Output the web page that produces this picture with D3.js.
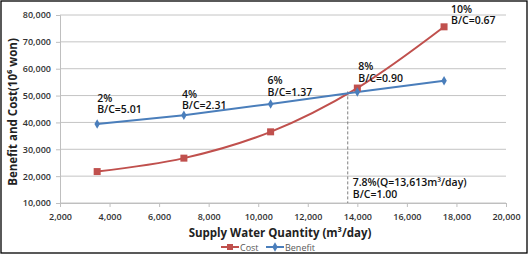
<!DOCTYPE html>
<html>
<head>
<meta charset="utf-8">
<script src="https://cdn.jsdelivr.net/npm/d3@7"></script>
<style>
  body { margin: 0; background: #fff; }
  svg text { font-family: "Open Sans", "Noto Sans", sans-serif; }
</style>
</head>
<body>
<script>
// data
const quantity = [3500, 7000, 10500, 14000, 17500];
const cost = [21700, 26700, 36500, 52800, 75600];
const benefit = [39400, 42700, 46900, 51300, 55500];
const rates = ['2%', '4%', '6%', '8%', '10%'];
const ratios = ['B/C=5.01', 'B/C=2.31', 'B/C=1.37', 'B/C=0.90', 'B/C=0.67'];
const xTicks = [2000, 4000, 6000, 8000, 10000, 12000, 14000, 16000, 18000, 20000];
const yTicks = [10000, 20000, 30000, 40000, 50000, 60000, 70000, 80000];
const breakEven = 13613;

const W = 529, H = 255;
const svg = d3.select('body').append('svg')
    .attr('width', W)
    .attr('height', H);

// outer frame
svg.append('rect')
    .attr('x', 1).attr('y', 1)
    .attr('width', W - 3).attr('height', H - 3)
    .attr('fill', 'none')
    .attr('stroke', '#000')
    .attr('stroke-width', 1.3);

const x = d3.scaleLinear().domain([2000, 20000]).range([60, 506]);
const y = d3.scaleLinear().domain([10000, 80000]).range([203, 15]);
const fmt = d3.format(',');

// grid
svg.append('g')
    .selectAll('line')
    .data(yTicks)
    .join('line')
    .attr('x1', x(2000)).attr('x2', x(20000))
    .attr('y1', d => y(d)).attr('y2', d => y(d))
    .attr('stroke', '#c4c4c4')
    .attr('stroke-width', 1);

// axes
svg.append('g')
    .attr('transform', `translate(${x(2000)},0)`)
    .call(d3.axisLeft(y).tickValues(yTicks).tickFormat(fmt).tickSize(4).tickPadding(5));
svg.append('g')
    .attr('transform', `translate(0,${y(10000)})`)
    .call(d3.axisBottom(x).tickValues(xTicks).tickFormat(fmt).tickSize(4).tickPadding(7));

svg.selectAll('.domain, .tick line').attr('stroke', '#bfbfbf');
svg.selectAll('.tick text')
    .attr('fill', '#333')
    .style('font-size', '9px')
    .style('font-weight', '600');

// axis titles
svg.append('text')
    .attr('transform', `translate(17,${(y(10000) + y(80000)) / 2 + 3}) rotate(-90)`)
    .attr('text-anchor', 'middle')
    .style('font-size', '11.5px')
    .style('font-weight', '700')
    .attr('fill', '#222')
    .text('Benefit and Cost(10⁶ won)');

svg.append('text')
    .attr('x', 280).attr('y', 237)
    .attr('text-anchor', 'middle')
    .style('font-size', '11.5px')
    .style('font-weight', '700')
    .attr('fill', '#222')
    .text('Supply Water Quantity (m³/day)');

// break-even marker
const bi = d3.bisectLeft(quantity, breakEven);
const t = (breakEven - quantity[bi - 1]) / (quantity[bi] - quantity[bi - 1]);
const crossVal = benefit[bi - 1] + t * (benefit[bi] - benefit[bi - 1]);
svg.append('line')
    .attr('x1', x(breakEven)).attr('x2', x(breakEven))
    .attr('y1', y(crossVal) - 2).attr('y2', y(10000))
    .attr('stroke', '#7f7f7f')
    .attr('stroke-width', 1)
    .attr('stroke-dasharray', '3,2');

const costColor = '#c0504d', benefitColor = '#4a7ebb';

const costLine = d3.line()
    .x((d, i) => x(quantity[i]))
    .y(d => y(d))
    .curve(d3.curveCatmullRom.alpha(0.5));
const benefitLine = d3.line()
    .x((d, i) => x(quantity[i]))
    .y(d => y(d));

svg.append('path')
    .attr('d', costLine(cost))
    .attr('fill', 'none')
    .attr('stroke', costColor)
    .attr('stroke-width', 2);
svg.append('path')
    .attr('d', benefitLine(benefit))
    .attr('fill', 'none')
    .attr('stroke', benefitColor)
    .attr('stroke-width', 2);

// markers
svg.append('g')
    .selectAll('rect')
    .data(cost)
    .join('rect')
    .attr('x', (d, i) => x(quantity[i]) - 3.5)
    .attr('y', d => y(d) - 3.5)
    .attr('width', 7).attr('height', 7)
    .attr('fill', costColor);

const diamond = d3.symbol().type(d3.symbolDiamond).size(26);
svg.append('g')
    .selectAll('path')
    .data(benefit)
    .join('path')
    .attr('d', diamond)
    .attr('transform', (d, i) => `translate(${x(quantity[i])},${y(d)})`)
    .attr('fill', benefitColor);

// annotations: second line sits just above the upper of the two points
const labelDx = [0, -2, -3, 1, 7];
const labelDy = [11, 6, 8, 6.5, 2.5];
const lineGap = 11.5;
const ann = svg.append('g')
    .style('font-size', '10.5px')
    .style('font-weight', '600')
    .attr('fill', '#111');
rates.forEach((r, i) => {
    const top = Math.max(cost[i], benefit[i]);
    const lx = x(quantity[i]) + labelDx[i];
    const ly = y(top) - labelDy[i];
    ann.append('text').attr('x', lx).attr('y', ly - lineGap).text(r);
    ann.append('text').attr('x', lx).attr('y', ly).text(ratios[i]);
});

const bx = x(breakEven) + 5;
ann.append('text').attr('x', bx).attr('y', 186).text('7.8%(Q=13,613m³/day)');
ann.append('text').attr('x', bx).attr('y', 186 + lineGap).text('B/C=1.00');

// legend
const legend = svg.append('g')
    .attr('transform', 'translate(221,247)')
    .style('font-size', '9px')
    .attr('fill', '#595959');
const items = [
    { name: 'Cost', color: costColor, mark: 'square', w: 0 },
    { name: 'Benefit', color: benefitColor, mark: 'diamond', w: 45 }
];
items.forEach(it => {
    const g = legend.append('g').attr('transform', `translate(${it.w},0)`);
    g.append('line')
        .attr('x1', 0).attr('x2', 18)
        .attr('stroke', it.color)
        .attr('stroke-width', 2);
    if (it.mark === 'square') {
        g.append('rect')
            .attr('x', 6).attr('y', -3).attr('width', 6).attr('height', 6)
            .attr('fill', it.color);
    } else {
        g.append('path')
            .attr('d', diamond)
            .attr('transform', 'translate(9,0)')
            .attr('fill', it.color);
    }
    g.append('text')
        .attr('x', 19).attr('y', 3.5)
        .text(it.name);
});
</script>
</body>
</html>
